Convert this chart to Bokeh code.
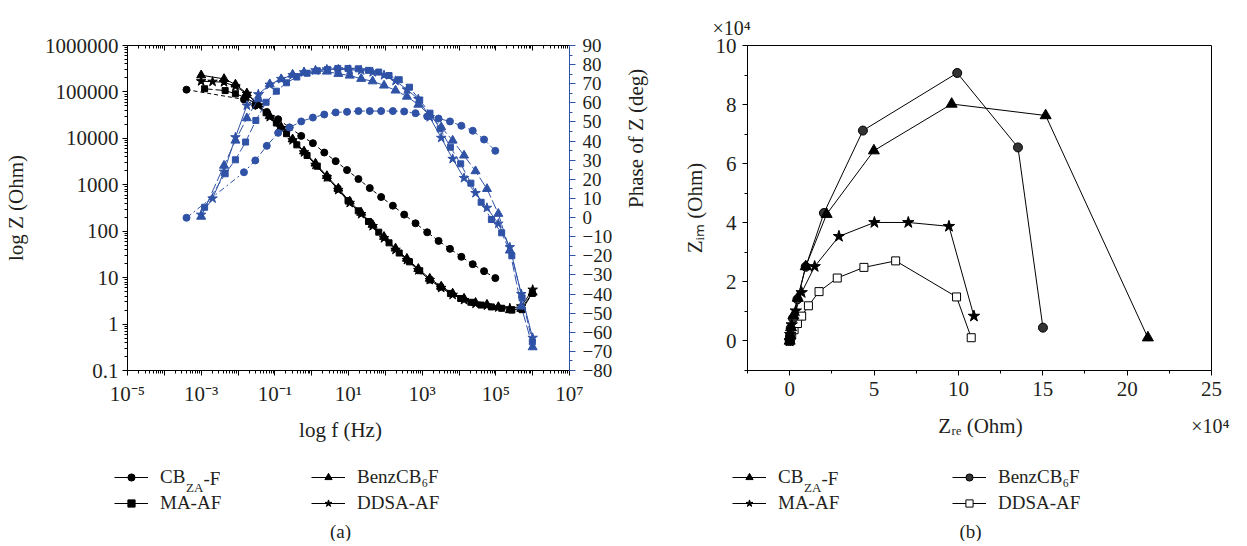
import math
from bokeh.plotting import figure
from bokeh.models import (Range1d, LinearScale, LogAxis, LinearAxis, FixedTicker,
                          Legend, LegendItem, Label)
from bokeh.layouts import row, column
from bokeh.embed import file_html
from bokeh.resources import INLINE

FONT = "Liberation Serif"
INK = "#231f20"
BLUE = "#2f52a6"

# ---------------- (a) Bode data ----------------
cb_freq = [4.0e-4, 1.45e-2, 2.95e-2, 6.05e-2, 0.123, 0.251, 0.521, 1.08, 2.20, 4.49, 9.12, 18.6,
           37.8, 76.9, 160, 325, 661, 1370, 2790, 5690, 11600, 23600, 47900, 96800]
cb_z = [112000, 69000, 51000, 37000, 25800, 17100, 11300, 7870, 4950, 3230, 2070, 1330,
        849, 545, 355, 228, 148, 94.8, 61.8, 41.7, 28.1, 19.5, 13.8, 9.77]
cb_phase = [-0.1, 23.7, 29.9, 37.5, 44.3, 47.1, 50.3, 52.3, 53.9, 55.0, 55.3, 55.7,
            55.7, 55.7, 55.7, 55.5, 54.6, 52.9, 51.8, 50.3, 48.0, 45.4, 40.8, 34.9]

ma_freq = [1.24e-3, 4.48e-3, 8.49e-3, 1.61e-2, 3.05e-2, 5.79e-2, 0.110, 0.208, 0.395, 0.750,
           1.42, 2.70, 5.12, 9.70, 18.4, 34.9, 66.2, 126, 238, 452, 857, 1630, 3080, 5850,
           11100, 21000, 39900, 75700, 144000, 272000, 516000, 980000]
ma_z = [117000, 107000, 91200, 75900, 55000, 35500, 21400, 12600, 7240, 4270, 2510, 1410,
        813, 457, 275, 162, 95.5, 56.2, 33.9, 21.9, 14.1, 8.91, 6.31, 4.57, 3.55, 2.95,
        2.57, 2.34, 2.19, 2.00, 2.04, 4.57]
ma_phase = [5.4, 22.9, 30.2, 39.5, 50.8, 60.3, 66.1, 70.5, 73.5, 75.5, 76.8, 77.5, 78.0,
            78.0, 77.8, 77.0, 76.1, 74.3, 72.1, 68.2, 61.5, 54.6, 46.4, 36.8, 28.1, 18.0,
            8.0, -1.0, -8.0, -20.0, -42.0, -65.0]

benz_freq = [1.00e-3, 4.18e-3, 8.53e-3, 1.74e-2, 3.56e-2, 7.27e-2, 0.149, 0.304, 0.621, 1.27,
             2.59, 5.29, 10.8, 22.1, 45.2, 92.2, 189, 385, 787, 1610, 3290, 6720, 13700,
             28100, 57400, 117000, 240000, 490000, 1000000]
benz_z = [229000, 191000, 145000, 93300, 53700, 30200, 17400, 9550, 5250, 2880, 1550, 832,
          437, 251, 138, 75.9, 42.7, 25.7, 15.5, 9.55, 6.46, 4.57, 3.55, 2.88, 2.63, 2.34,
          2.00, 2.14, 4.79]
benz_phase = [0.5, 27.2, 40.3, 52.0, 62.0, 69.8, 72.4, 74.8, 75.9, 76.6, 76.4, 75.2, 74.3,
              72.6, 71.3, 69.1, 66.5, 63.3, 59.1, 53.5, 47.3, 40.3, 32.5, 24.3, 15.0, 2.0,
              -17.2, -46.5, -67.8]

ddsa_freq = [1.00e-3, 2.04e-3, 4.18e-3, 8.53e-3, 1.74e-2, 3.56e-2, 7.27e-2, 0.149, 0.304,
             0.621, 1.27, 2.59, 5.29, 10.8, 22.1, 45.2, 92.2, 189, 385, 787, 1610, 3290,
             6720, 13700, 28100, 57400, 117000, 240000, 490000, 1000000]
ddsa_z = [170000, 166000, 162000, 132000, 91200, 51300, 28800, 16600, 9120, 5010, 2690,
          1450, 776, 407, 234, 129, 70.8, 39.8, 24.0, 14.5, 8.91, 6.03, 4.27, 3.31, 2.75,
          2.51, 2.29, 2.19, 2.40, 5.50]
ddsa_phase = [1.5, 10.0, 24.0, 42.0, 58.6, 64.5, 69.5, 72.5, 74.5, 76.0, 77.0, 77.5, 77.5,
              77.3, 77.0, 76.0, 74.5, 71.5, 67.0, 62.0, 52.5, 41.7, 30.7, 20.7, 12.8, 5.1,
              -3.2, -15.5, -40.0, -62.9]

bode_xticks = [1e-5, 1e-4, 1e-3, 1e-2, 1e-1, 1e0, 1e1, 1e2, 1e3, 1e4, 1e5, 1e6, 1e7]
bode_xlabels = ["10⁻⁵", "", "10⁻³", "", "10⁻¹", "", "10¹", "", "10³", "", "10⁵", "", "10⁷"]
bode_yticks = [0.1, 1.0, 10.0, 100.0, 1000.0, 10000.0, 100000.0, 1000000.0]
bode_ylabels = ["0.1", "1", "10", "100", "1000", "10000", "100000", "1000000"]
phase_ticks = [90, 80, 70, 60, 50, 40, 30, 20, 10, 0, -10, -20, -30, -40, -50, -60, -70, -80]
phase_labels = ["90", "80", "70", "60", "50", "40", "30", "20", "10", "0", "−10", "−20",
                "−30", "−40", "−50", "−60", "−70", "−80"]

# ---------------- (b) Nyquist data (x10^4 Ohm) ----------------
cbza_re = [0, 0.03, 0.08, 0.22, 0.48, 0.95, 2.19, 4.99, 9.6, 15.17, 21.23]
cbza_im = [0, 0.18, 0.45, 0.86, 1.45, 2.52, 4.29, 6.44, 8.02, 7.63, 0.11]
maaf_re = [0, 0.03, 0.12, 0.36, 0.71, 1.48, 2.92, 5.02, 7.03, 9.44, 10.92]
maaf_im = [0, 0.22, 0.55, 1.02, 1.64, 2.52, 3.54, 4.01, 4.01, 3.88, 0.84]
benzf_re = [0, 0.02, 0.06, 0.20, 0.46, 0.95, 2.03, 4.34, 9.93, 13.53, 15.01]
benzf_im = [0, 0.17, 0.43, 0.76, 1.41, 2.51, 4.33, 7.12, 9.07, 6.55, 0.45]
ddsaf_re = [0, 0.04, 0.12, 0.26, 0.46, 0.71, 1.11, 1.74, 2.82, 4.40, 6.28, 9.89, 10.76]
ddsaf_im = [0, 0.08, 0.20, 0.38, 0.59, 0.84, 1.19, 1.67, 2.13, 2.49, 2.71, 1.49, 0.11]

nyq_xticks = [0, 5, 10, 15, 20, 25]
nyq_xlabels = ["0", "5", "10", "15", "20", "25"]
nyq_yticks = [0, 2, 4, 6, 8, 10]
nyq_ylabels = ["0", "2", "4", "6", "8", "10"]

TOP = 45
FRAME_H = 325
BOT = 35
LOW_H = 133
NAN = float("nan")


def style_axis(ax, size="21px"):
    ax.major_label_text_font = FONT
    ax.major_label_text_font_size = size
    ax.major_label_text_color = INK
    ax.axis_label_text_font = FONT
    ax.axis_label_text_font_size = "21px"
    ax.axis_label_text_font_style = "normal"
    ax.axis_label_text_color = INK
    ax.axis_line_color = "black"
    ax.major_tick_line_color = "black"
    ax.minor_tick_line_color = "black"
    ax.major_tick_in = 0
    ax.major_tick_out = 5
    ax.minor_tick_in = 0
    ax.minor_tick_out = 3


def label(fig, text, x, y, size="19px", align="left", baseline="middle", angle=0):
    fig.add_layout(Label(text=text, x=x, y=y,
                         text_font=FONT, text_font_size=size, text_color=INK,
                         text_align=align, text_baseline=baseline,
                         angle=angle, angle_units="deg"))


def lower_fig(width):
    f = figure(x_range=Range1d(0, width), y_range=Range1d(0, LOW_H),
               frame_width=width, frame_height=LOW_H,
               min_border_left=0, min_border_right=0, min_border_top=0, min_border_bottom=0,
               x_axis_location=None, y_axis_location=None,
               output_backend="svg", toolbar_location=None)
    f.grid.visible = False
    f.outline_line_color = None
    return f


def make_legend(fig, entries, x, lw):
    items = []
    for name, marker, size, fill in entries:
        # legend-only renderers: a single NaN point, so nothing is drawn in the strip itself
        r1 = fig.line(x=[NAN], y=[NAN], line_color="black", line_width=1)
        r2 = fig.scatter(x=[NAN], y=[NAN], marker=marker, size=size, line_color="black",
                         fill_color=fill)
        items.append(LegendItem(label=name, renderers=[r1, r2]))
    leg = Legend(items=items, location=(x, LOW_H - 105.5), orientation="vertical", nrows=2,
                 glyph_width=34, glyph_height=18, label_standoff=12, label_width=lw,
                 label_height=21, spacing=4, padding=0, margin=0,
                 border_line_alpha=0, background_fill_alpha=0,
                 label_text_font=FONT, label_text_font_size="19px", label_text_color=INK)
    fig.add_layout(leg)
    # subscript part of "CB_ZA-F" (first legend entry)
    xs = x + 46
    label(fig, "ZA", xs + 25.5, LOW_H - 79, size="13px", baseline="alphabetic")
    label(fig, "-F", xs + 43, LOW_H - 70)


# ======================= figure (a) =======================
pa = figure(x_axis_type="log", y_axis_type="log",
            x_range=Range1d(1e-5, 1e7), y_range=Range1d(0.1, 1e6),
            frame_width=442, frame_height=FRAME_H,
            min_border_left=119, min_border_right=99, min_border_top=TOP, min_border_bottom=BOT,
            output_backend="svg", toolbar_location=None)
pa.extra_y_ranges = {"phase": Range1d(-80, 90)}
pa.extra_y_scales = {"phase": LinearScale()}
pa.grid.visible = False
pa.outline_line_color = None

x_minor = [m * t for t in bode_xticks[:-1] for m in range(2, 10)]
y_minor = [m * t for t in bode_yticks[:-1] for m in range(2, 10)]

xa = pa.xaxis[0]
style_axis(xa)
xa.ticker = FixedTicker(ticks=bode_xticks, minor_ticks=x_minor)
xa.major_label_overrides = dict(zip(bode_xticks, bode_xlabels))
xa.major_label_standoff = 6

ya = pa.yaxis[0]
style_axis(ya)
ya.ticker = FixedTicker(ticks=bode_yticks, minor_ticks=y_minor)
ya.major_label_overrides = dict(zip(bode_yticks, bode_ylabels))
ya.major_label_standoff = 4
ya.axis_label = "log Z (Ohm)"
ya.axis_label_standoff = 14

top = LogAxis(ticker=FixedTicker(ticks=bode_xticks, minor_ticks=x_minor),
              major_label_overrides={t: "" for t in bode_xticks})
style_axis(top)
top.major_label_text_font_size = "0px"
top.major_tick_in = 5
top.major_tick_out = 0
top.minor_tick_in = 3
top.minor_tick_out = 0
top.major_label_standoff = 0
pa.add_layout(top, "above")

ph = LinearAxis(y_range_name="phase",
                ticker=FixedTicker(ticks=phase_ticks, minor_ticks=list(range(-80, 91, 5))),
                major_label_overrides=dict(zip(phase_ticks, phase_labels)))
style_axis(ph, size="19px")
ph.axis_line_color = BLUE
ph.major_tick_line_color = BLUE
ph.minor_tick_line_color = BLUE
ph.major_tick_out = 6
ph.minor_tick_out = 3
ph.major_label_standoff = 7
ph.axis_label = "Phase of Z (deg)"
ph.axis_label_standoff = 21
try:
    ph.axis_label_orientation = math.pi / 2
except Exception:
    pass
pa.add_layout(ph, "right")

# magnitude (black)
pa.line(cb_freq, cb_z, line_color="black", line_width=1, line_dash="4 3")
pa.scatter(cb_freq, cb_z, marker="circle", size=7, color="black")
pa.line(ma_freq, ma_z, line_color="black", line_width=1, line_dash="8 3")
pa.scatter(ma_freq, ma_z, marker="square", size=6, color="black")
pa.line(ddsa_freq, ddsa_z, line_color="black", line_width=1)
pa.scatter(ddsa_freq, ddsa_z, marker="star", size=10, color="black")
pa.line(benz_freq, benz_z, line_color="black", line_width=1)
pa.scatter(benz_freq, benz_z, marker="triangle", size=9, color="black")

# phase (blue)
pa.line(cb_freq, cb_phase, y_range_name="phase", line_color=BLUE, line_width=1, line_dash="6 3 2 3")
pa.scatter(cb_freq, cb_phase, y_range_name="phase", marker="circle", size=7, color=BLUE)
pa.line(ma_freq, ma_phase, y_range_name="phase", line_color=BLUE, line_width=1, line_dash="8 3")
pa.scatter(ma_freq, ma_phase, y_range_name="phase", marker="square", size=6, color=BLUE)
pa.line(ddsa_freq, ddsa_phase, y_range_name="phase", line_color=BLUE, line_width=1)
pa.scatter(ddsa_freq, ddsa_phase, y_range_name="phase", marker="star", size=10, color=BLUE)
pa.line(benz_freq, benz_phase, y_range_name="phase", line_color=BLUE, line_width=1, line_dash="10 3")
pa.scatter(benz_freq, benz_phase, y_range_name="phase", marker="triangle", size=9, color=BLUE)

# ======================= figure (b) =======================
pb = figure(x_range=Range1d(-2.5, 25), y_range=Range1d(-1, 10),
            frame_width=464, frame_height=FRAME_H,
            min_border_left=79, min_border_right=28, min_border_top=TOP, min_border_bottom=BOT,
            output_backend="svg", toolbar_location=None)
pb.grid.visible = False
pb.outline_line_color = "black"
pb.title.text = "×10⁴"
pb.title.align = "left"
pb.title.offset = -35
pb.title.standoff = 14
pb.title.text_font = FONT
pb.title.text_font_size = "20px"
pb.title.text_font_style = "normal"
pb.title.text_color = INK

xb = pb.xaxis[0]
style_axis(xb)
xb.ticker = FixedTicker(ticks=nyq_xticks, minor_ticks=[-2.5, 2.5, 7.5, 12.5, 17.5, 22.5])
xb.major_label_overrides = dict(zip(nyq_xticks, nyq_xlabels))
xb.major_label_standoff = 6

yb = pb.yaxis[0]
style_axis(yb)
yb.ticker = FixedTicker(ticks=nyq_yticks, minor_ticks=[-1, 1, 3, 5, 7, 9])
yb.major_label_overrides = dict(zip(nyq_yticks, nyq_ylabels))
yb.major_label_standoff = 6
yb.axis_label = "Zᵢₘ (Ohm)"
yb.axis_label_standoff = 6

pb.line(cbza_re, cbza_im, line_color="black", line_width=1)
pb.line(maaf_re, maaf_im, line_color="black", line_width=1)
pb.line(benzf_re, benzf_im, line_color="black", line_width=1)
pb.line(ddsaf_re, ddsaf_im, line_color="black", line_width=1)
pb.scatter(ddsaf_re, ddsaf_im, marker="square", size=8, fill_color="white", line_color="black")
pb.scatter(benzf_re, benzf_im, marker="circle", size=9, fill_color="#333333", line_color="black")
pb.scatter(maaf_re, maaf_im, marker="star", size=12, color="black")
pb.scatter(cbza_re, cbza_im, marker="triangle", size=11, color="black")

# ======================= lower strips: axis titles, legends, captions =======================
la = lower_fig(660)
label(la, "log f (Hz)", 340, LOW_H - 21, size="21px", align="center")
make_legend(la, [("CB", "circle", 7, "black"), ("MA-AF", "square", 6, "black"),
                 ("BenzCB₆F", "triangle", 9, "black"), ("DDSA-AF", "star", 10, "black")],
            114, 147)
label(la, "(a)", 340, LOW_H - 123, align="center")

lb = lower_fig(571)
label(lb, "Zᵣₑ (Ohm)", 320, LOW_H - 17, size="21px", align="center")
label(lb, "×10⁴", 569, LOW_H - 17, size="20px", align="right")
make_legend(lb, [("CB", "triangle", 11, "black"), ("MA-AF", "star", 12, "black"),
                 ("BenzCB₆F", "circle", 9, "#333333"), ("DDSA-AF", "square", 8, "white")],
            72, 170)
label(lb, "(b)", 310, LOW_H - 123, align="center")

layout = column(row(pa, pb), row(la, lb))
open("out.html", "w").write(file_html(layout, INLINE))
